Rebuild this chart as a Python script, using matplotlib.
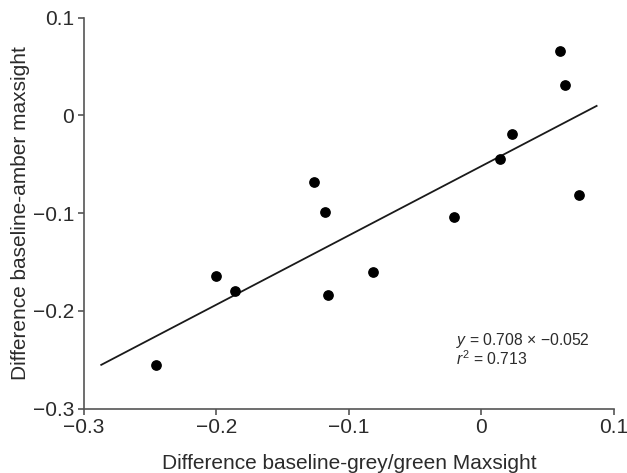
import matplotlib
matplotlib.use("Agg")
import matplotlib.pyplot as plt
import numpy as np

# Data
diff_grey = [-0.246, -0.2005, -0.186, -0.1265, -0.118, -0.116, -0.082,
             -0.021, 0.014, 0.023, 0.059, 0.0635, 0.0735]
diff_amber = [-0.255, -0.164, -0.180, -0.068, -0.099, -0.184, -0.160,
              -0.104, -0.045, -0.019, 0.066, 0.0305, -0.081]
slope = 0.708
intercept = -0.052
r2 = 0.713
line_range = [-0.287, 0.087]

plt.rcParams["font.family"] = ["Liberation Sans", "DejaVu Sans"]
plt.rcParams["mathtext.fontset"] = "custom"
plt.rcParams["mathtext.it"] = "Liberation Sans:italic"
plt.rcParams["mathtext.rm"] = "Liberation Sans"
text_col = "#2b2b2b"

fig = plt.figure(figsize=(6.27, 4.73), dpi=100)
ax = fig.add_axes([0.134, 0.136, 0.845, 0.827])

ax.scatter(diff_grey, diff_amber, s=45, color="black", zorder=3)
xl = np.array(line_range)
ax.plot(xl, slope * xl + intercept, color="#1a1a1a", linewidth=1.3)

ax.set_xlim(-0.3, 0.1)
ax.set_ylim(-0.3, 0.1)
ax.set_xticks([-0.3, -0.2, -0.1, 0, 0.1])
ax.set_yticks([-0.3, -0.2, -0.1, 0, 0.1])
ax.set_xticklabels(["\u22120.3", "\u22120.2", "\u22120.1", "0", "0.1"])
ax.set_yticklabels(["\u22120.3", "\u22120.2", "\u22120.1", "0", "0.1"])

for s in ["top", "right"]:
    ax.spines[s].set_visible(False)
for s in ["left", "bottom"]:
    ax.spines[s].set_color("#555555")
    ax.spines[s].set_linewidth(1.2)
ax.tick_params(direction="out", length=4, width=1.2, colors="#555555",
               labelcolor=text_col, labelsize=15, pad=3)

ax.set_xlabel("Difference baseline-grey/green Maxsight", fontsize=15,
              color=text_col, labelpad=12)
ax.set_ylabel("Difference baseline-amber maxsight", fontsize=15,
              color=text_col, labelpad=2)

eq = "$y$ = %.3f \u00d7 \u2212%.3f" % (slope, -intercept)
ax.text(-0.0195, -0.235, eq, fontsize=11.3, color=text_col)
ax.text(-0.0195, -0.255, "$r^2$ = %.3f" % r2, fontsize=11.3, color=text_col)

fig.savefig("out.png", dpi=100)
